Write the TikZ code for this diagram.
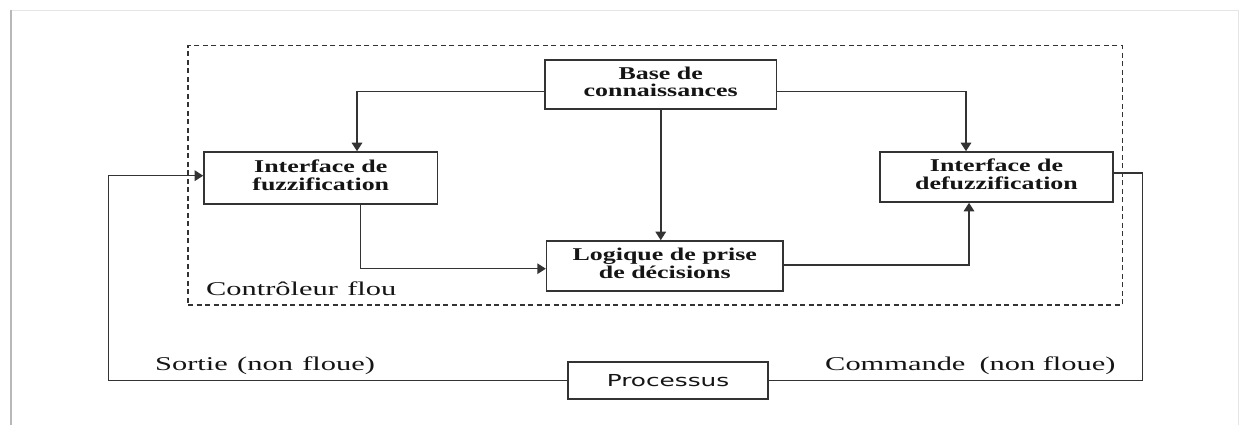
\documentclass[tikz,border=0pt]{standalone}
\usepackage{fontspec}
\setmainfont{Liberation Serif}
\newfontfamily\procfont{DejaVu Sans}
\usetikzlibrary{arrows.meta}
\newcommand{\wtext}[2][1.6]{\scalebox{#1}[1]{#2}}
\definecolor{linec}{HTML}{333333}
\definecolor{textc}{HTML}{151515}
\tikzset{
 blk/.style={draw=linec, line width=1.6pt, fill=white, inner sep=0pt, text=textc,
   font=\fontsize{18}{17.5}\selectfont\bfseries},
 conn/.style={draw=linec, line width=1.5pt},
 arr/.style={conn, -{Triangle[length=8.5pt,width=10.5pt]}},
 lbl/.style={inner sep=0pt, anchor=base west, text=textc, font=\fontsize{19.5}{20}\selectfont},
 dashbox/.style={draw=linec, line width=1.4pt, dash pattern=on 5pt off 3.5pt, inner sep=0pt},
}
\begin{document}
\begin{tikzpicture}[x=1pt,y=-1pt]
\useasboundingbox (0,0) rectangle (1239,425);
\fill[white] (0,0) rectangle (1239,425);
% faint frame
\draw[black!10, line width=1pt] (11,10.5) -- (1239,10.5);
\draw[black!28, line width=2.2pt] (11,10) -- (11,425);
\draw[black!10, line width=1pt] (1238,10) -- (1238,425);
% controller dashed frame
\node[dashbox, minimum width=934.3pt, minimum height=259.3pt] (ctrl) at (655.15,175.35) {};
% blocks
\node[blk, minimum width=231.5pt, minimum height=49pt] (base) at (660.75,84.5)
  {\wtext[1.44]{\begin{tabular}{@{}c@{}}Base de\\connaissances\end{tabular}}};
\node[blk, minimum width=233.5pt, minimum height=52pt] (fuzz) at (320.75,178)
  {\wtext[1.44]{\begin{tabular}{@{}c@{}}Interface de\\fuzzification\end{tabular}}};
\node[blk, minimum width=236.4pt, minimum height=50pt] (logique) at (664.8,266)
  {\wtext[1.44]{\begin{tabular}{@{}c@{}}Logique de prise\\de décisions\end{tabular}}};
\node[blk, minimum width=233pt, minimum height=50pt] (defuzz) at (996.5,177)
  {\wtext[1.44]{\begin{tabular}{@{}c@{}}Interface de\\defuzzification\end{tabular}}};
\node[blk, minimum width=200pt, minimum height=37pt, font=\fontsize{16.5}{17}\selectfont\procfont] (proc) at (668,380.5)
  {\wtext[1.5]{Processus}};
% labels
\node[lbl] (lctrl) at (206,295) {\wtext[1.56]{Contrôleur\hspace{6pt}flou}};
\node[lbl] (lsortie) at (155,370.5) {\wtext[1.56]{Sortie\hspace{6pt}(non\hspace{6pt}floue)}};
\node[lbl] (lcmd) at (825,370.5) {\wtext[1.56]{Commande\hspace{9pt}(non floue)}};
% connectors
\draw[arr] (base.west |- 0,91.7) -| (357,0 |- fuzz.north);
\draw[arr] (360.5,0 |- fuzz.south) |- (logique.west |- 0,268.7);
\draw[arr] (base.south) -- (base.south |- logique.north);
\draw[arr] (base.east |- 0,91.7) -| (966,0 |- defuzz.north);
\draw[arr] (logique.east |- 0,265) -| (969,0 |- defuzz.south);
\draw[conn] (defuzz.east |- 0,173) -| (1142.5,0 |- proc.east) -- (proc.east);
\draw[arr] (proc.west) -| (108.7,175.7) -- (fuzz.west |- 0,175.7);
\end{tikzpicture}
\end{document}
